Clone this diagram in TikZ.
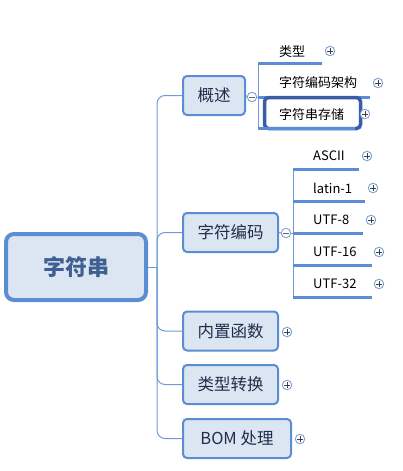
\documentclass[tikz,border=0pt]{standalone}
\usepackage{fontspec}
\setmainfont{Noto Sans CJK SC}
\definecolor{boxblue}{HTML}{5B8DD2}
\definecolor{boxfill}{HTML}{DCE6F2}
\definecolor{connblue}{HTML}{6E9BD6}
\definecolor{ulblue}{HTML}{5A8ED6}
\definecolor{selblue}{HTML}{3A5DAA}
\definecolor{roottext}{HTML}{3D5F91}
\definecolor{childtext}{HTML}{1F2D4A}
\definecolor{pmblue}{HTML}{7FA3D6}
\begin{document}
\begin{tikzpicture}[x=1pt,y=-1pt,
  rootbox/.style={draw=boxblue, line width=4pt, fill=boxfill, rounded corners=8pt,
    minimum width=140pt, minimum height=66pt, inner sep=0pt,
    font=\fontsize{22}{24}\selectfont\bfseries, text=roottext},
  childbox/.style={draw=boxblue, line width=2pt, fill=boxfill, rounded corners=4pt,
    minimum height=39pt, inner sep=0pt, font=\fontsize{16.5}{18}\selectfont, text=childtext},
  leaf/.style={anchor=west, inner sep=0pt, font=\fontsize{13}{15}\selectfont, text=black},
  conn/.style={draw=connblue, line width=1pt},
  uline/.style={draw=ulblue, line width=3pt},
  pmbase/.style={circle, draw=pmblue, fill=white, line width=0.9pt, minimum size=9.5pt, inner sep=0pt},
  plusc/.style={pmbase, path picture={\draw[line width=0.7pt, black!75]
      ([xshift=-2.6pt]path picture bounding box.center) -- ([xshift=2.6pt]path picture bounding box.center)
      ([yshift=-2.6pt]path picture bounding box.center) -- ([yshift=2.6pt]path picture bounding box.center);}},
  minusc/.style={pmbase, path picture={\draw[line width=0.7pt, black!60]
      ([xshift=-2.6pt]path picture bounding box.center) -- ([xshift=2.6pt]path picture bounding box.center);}}
]
\useasboundingbox (0,0) rectangle (402,471);

% root and main branches
\node[rootbox] (root) at (76,267) {字符串};
\coordinate (J) at (157,267);
\node[childbox, minimum width=62pt] (gs) at (214,95.5) {概述};
\node[childbox, minimum width=95pt] (zfbm) at (230.5,232.5) {字符编码};
\node[childbox, minimum width=95pt] (nzhs) at (230.5,331) {内置函数};
\node[childbox, minimum width=95pt] (lxzh) at (230.5,384.5) {类型转换};
\node[childbox, minimum width=108pt] (bom) at (237,438.5) {BOM 处理};

\draw[conn] (root.east) -- (J);
\foreach \c in {gs,zfbm,nzhs,lxzh,bom}{
  \draw[conn, rounded corners=8pt] (J) |- (\c.west);
}

% 概述 leaves
\node[minusc] (m1) at (252,97) {};
\coordinate (h1) at (258,97);
\draw[conn] (gs.east) -- (m1.west);
\draw[conn] (m1.east) -- (h1);
\coordinate (u1) at (258,63);
\coordinate (u1e) at (322,63);
\coordinate (u2) at (258,97);
\coordinate (u2e) at (370,97);
\coordinate (u3) at (258,128);
\coordinate (u3e) at (355,128);
\draw[conn] (u1) -- (u3);
\draw[uline] (u1) -- (u1e);
\draw[uline] (u2) -- (u2e);
\node[draw=selblue, line width=3.5pt, fill=white, rounded corners=4pt, minimum width=96pt, minimum height=31pt, inner sep=0pt] (sel) at (312.5,113) {};
\draw[uline] (u3) -- (u3e);
\node[leaf] (l1) at (279,52) {类型};
\node[leaf] (l2) at (279,83) {字符编码架构};
\node[leaf] (l3) at (279,115) {字符串存储};
\node[plusc] (p1) at (330,51) {};
\node[plusc] (p2) at (378,83) {};
\node[plusc] (p3) at (365,114) {};

% 字符编码 leaves
\node[minusc] (m2) at (286,233) {};
\coordinate (h2) at (293,233);
\draw[conn] (zfbm.east) -- (m2.west);
\draw[conn] (m2.east) -- (h2);
\coordinate (e1) at (293,169);
\coordinate (e1e) at (359,169);
\coordinate (e2) at (293,201);
\coordinate (e2e) at (365,201);
\coordinate (e3) at (293,233);
\coordinate (e3e) at (363,233);
\coordinate (e4) at (293,265);
\coordinate (e4e) at (372,265);
\coordinate (e5) at (293,297);
\coordinate (e5e) at (372,297);
\draw[conn] (e1) -- (e5);
\foreach \a in {1,...,5}{ \draw[uline] (e\a) -- (e\a e); }
\node[leaf] (a1) at (313,156) {ASCII};
\node[leaf] (a2) at (313,188) {latin-1};
\node[leaf] (a3) at (313,220) {UTF-8};
\node[leaf] (a4) at (313,252) {UTF-16};
\node[leaf] (a5) at (313,284) {UTF-32};
\node[plusc] (q1) at (367,156) {};
\node[plusc] (q2) at (373,188) {};
\node[plusc] (q3) at (371,220) {};
\node[plusc] (q4) at (379,252) {};
\node[plusc] (q5) at (379,284) {};

% plus after collapsed branches
\node[plusc] (r1) at (287,332) {};
\node[plusc] (r2) at (287,385) {};
\node[plusc] (r3) at (300,439) {};
\end{tikzpicture}
\end{document}
